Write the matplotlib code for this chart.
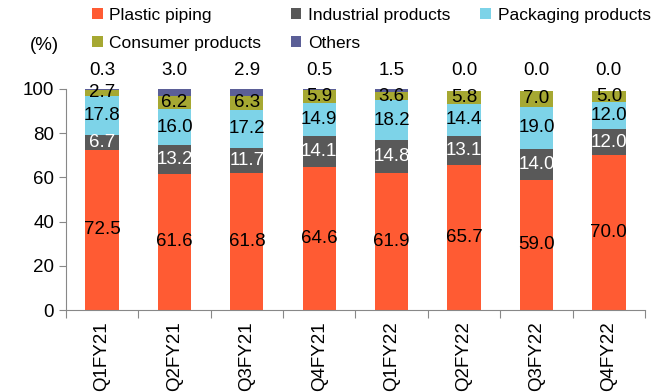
import matplotlib.pyplot as plt
import numpy as np

plt.rcParams['font.family'] = ['Liberation Sans', 'DejaVu Sans']

quarters = ["Q1FY21", "Q2FY21", "Q3FY21", "Q4FY21", "Q1FY22", "Q2FY22", "Q3FY22", "Q4FY22"]
plastic = [72.5, 61.6, 61.8, 64.6, 61.9, 65.7, 59.0, 70.0]
industrial = [6.7, 13.2, 11.7, 14.1, 14.8, 13.1, 14.0, 12.0]
packaging = [17.8, 16.0, 17.2, 14.9, 18.2, 14.4, 19.0, 12.0]
consumer = [2.7, 6.2, 6.3, 5.9, 3.6, 5.8, 7.0, 5.0]
others = [0.3, 3.0, 2.9, 0.5, 1.5, 0.0, 0.0, 0.0]

series = [
    ("Plastic piping", plastic, "#FF5B33", "black"),
    ("Industrial products", industrial, "#595959", "white"),
    ("Packaging products", packaging, "#7DD3E8", "black"),
    ("Consumer products", consumer, "#A6A832", "black"),
    ("Others", others, "#5B5F97", None),
]

fig = plt.figure(figsize=(6.65, 3.92), dpi=100)
ax = fig.add_axes([0.099, 0.209, 0.871, 0.564])

x = np.arange(len(quarters))
bottom = np.zeros(len(quarters))
fs = 13.5
bars = []
for name, vals, col, tcol in series:
    vals = np.array(vals)
    b = ax.bar(x, vals, 0.46, bottom=bottom, color=col, label=name, clip_on=False)
    bars.append(b)
    for i, v in enumerate(vals):
        if tcol is None:
            ax.text(x[i], 108.5, f"{v:.1f}", ha="center", va="center", fontsize=fs, clip_on=False)
        else:
            ax.text(x[i], bottom[i] + v / 2, f"{v:.1f}", ha="center", va="center",
                    fontsize=fs, color=tcol)
    bottom += vals

ax.set_xlim(-0.5, len(quarters) - 0.5)
ax.set_ylim(0, 100)
ax.set_yticks(range(0, 101, 20))
ax.set_xticks(np.arange(-0.5, len(quarters), 1.0))
ax.set_xticklabels([])
ax.set_xticks(x, minor=True)
ax.set_xticklabels(quarters, minor=True, rotation=90, fontsize=fs)
ax.tick_params(axis="x", which="minor", length=0, pad=8)
ax.tick_params(axis="x", which="major", length=6, color="#888888", direction="out")
ax.tick_params(axis="y", length=5, color="#888888", labelsize=fs)
for s in ["top", "right"]:
    ax.spines[s].set_visible(False)
for s in ["left", "bottom"]:
    ax.spines[s].set_color("#888888")

fig.text(0.045, 0.885, "(%)", fontsize=fs, ha="left", va="center")
order = [0, 3, 1, 4, 2]
fig.legend([bars[i] for i in order], [series[i][0] for i in order],
           loc="upper left", bbox_to_anchor=(0.115, 1.02), ncol=3, frameon=False,
           fontsize=12.5, handlelength=0.6, handleheight=0.6, handletextpad=0.4,
           columnspacing=1.7, labelspacing=0.75)

fig.savefig("out.png", dpi=100)
